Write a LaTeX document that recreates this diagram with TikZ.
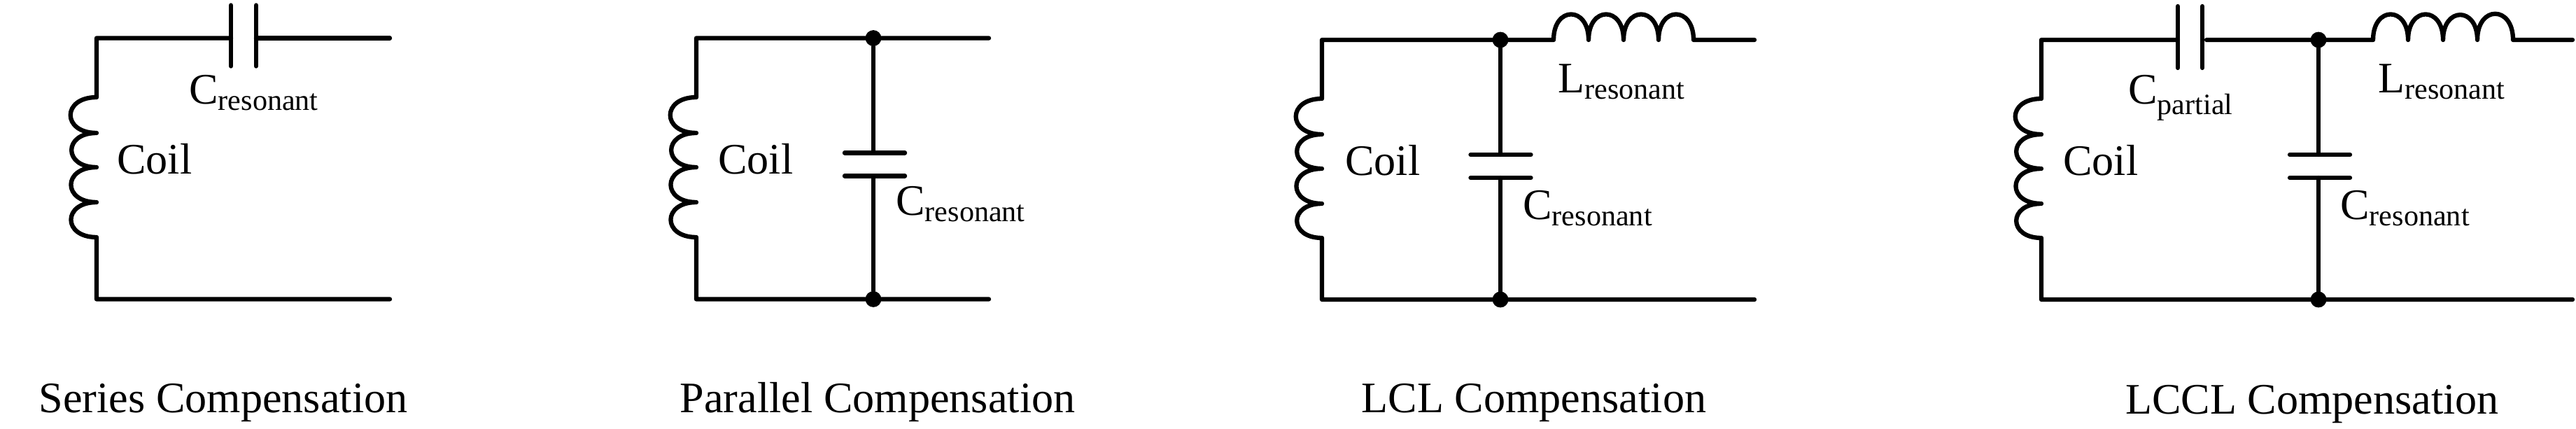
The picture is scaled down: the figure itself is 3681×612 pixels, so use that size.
\documentclass[tikz,border=0pt]{standalone}
\usepackage{fontspec}
\setmainfont{Liberation Serif}
\newcommand{\subtxt}[1]{\textsubscript{\fontsize{24}{24}\selectfont #1}}
\tikzset{
  wire/.style={line width=3.6pt,line cap=round,line join=round},
  coilturn/.style={out=180,in=180,looseness=2.5},
  lturn/.style={out=90,in=90,looseness=2.5},
  dotnode/.style={circle,fill=black,inner sep=0pt,minimum size=13pt},
  lbl/.style={anchor=base west,inner sep=0pt,font=\fontsize{35.4}{40}\selectfont},
  caption/.style={anchor=base,inner sep=0pt,font=\fontsize{35.4}{40}\selectfont}
}
\begin{document}
\begin{tikzpicture}[x=0.02cm,y=0.02cm]
    \useasboundingbox (0,0) rectangle (3681,612);

    \coordinate (tl1) at (138,557.5);
    \coordinate (bl1) at (138,184.5);
    \coordinate (tr1) at (557,557.5);
    \coordinate (br1) at (557,184.5);
    \coordinate (ca1) at (138,473);
    \coordinate (cb1) at (138,422);
    \coordinate (cc1) at (138,373);
    \coordinate (cd1) at (138,323);
    \coordinate (ce1) at (138,273);
    \coordinate (pa1) at (330,557.5);
    \coordinate (pb1) at (366,557.5);
    \draw[wire] (pa1) -- (tl1) -- (ca1) to[coilturn] (cb1) to[coilturn] (cc1) to[coilturn] (cd1) to[coilturn] (ce1) -- (bl1) -- (br1);
    \draw[wire] (pb1) -- (tr1);
    \draw[wire] (pa1) ++(0,47) -- ++(0,-87);
    \draw[wire] (pb1) ++(0,47) -- ++(0,-87);
    \node[lbl] (cres1) at (270,463) {C\subtxt{resonant}};
    \node[lbl] (coil1) at (167,363) {Coil};
    \node[caption] (cap1) at (319,22.6) {Series Compensation};


    \coordinate (tl2) at (995,557.5);
    \coordinate (bl2) at (995,184.5);
    \coordinate (tr2) at (1413,557.5);
    \coordinate (br2) at (1413,184.5);
    \coordinate (ca2) at (995,473);
    \coordinate (cb2) at (995,422);
    \coordinate (cc2) at (995,373);
    \coordinate (cd2) at (995,323);
    \coordinate (ce2) at (995,273);
    \node[dotnode] (dt2) at (1248,557.5) {};
    \node[dotnode] (db2) at (1248,184.5) {};
    \coordinate (pa2) at (1250,393.6);
    \coordinate (pb2) at (1250,360.6);
    \draw[wire] (tr2) -- (dt2) -- (tl2) -- (ca2) to[coilturn] (cb2) to[coilturn] (cc2) to[coilturn] (cd2) to[coilturn] (ce2) -- (bl2) -- (db2) -- (br2);
    \draw[wire] (dt2) -- (dt2 |- pa2);
    \draw[wire] (dt2 |- pb2) -- (db2);
    \draw[wire] (pa2) ++(-43,0) -- ++(86,0);
    \draw[wire] (pb2) ++(-43,0) -- ++(86,0);
    \node[lbl] (cres2) at (1280,304) {C\subtxt{resonant}};
    \node[lbl] (coil2) at (1026,363) {Coil};
    \node[caption] (cap2) at (1254,22.6) {Parallel Compensation};


    \coordinate (tl3) at (1889,555);
    \coordinate (bl3) at (1889,184);
    \coordinate (tr3) at (2507,555);
    \coordinate (br3) at (2507,184);
    \coordinate (ca3) at (1889,471);
    \coordinate (cb3) at (1889,420);
    \coordinate (cc3) at (1889,371);
    \coordinate (cd3) at (1889,321);
    \coordinate (ce3) at (1889,272);
    \coordinate (la3) at (2220,555);
    \coordinate (lb3) at (2270,555);
    \coordinate (lc3) at (2320,555);
    \coordinate (ld3) at (2370,555);
    \coordinate (le3) at (2420,555);
    \node[dotnode] (dt3) at (2144,555) {};
    \node[dotnode] (db3) at (2144,184) {};
    \coordinate (pa3) at (2144.5,391);
    \coordinate (pb3) at (2144.5,358);
    \draw[wire] (dt3) -- (tl3) -- (ca3) to[coilturn] (cb3) to[coilturn] (cc3) to[coilturn] (cd3) to[coilturn] (ce3) -- (bl3) -- (db3) -- (br3);
    \draw[wire] (dt3) -- (la3) to[lturn] (lb3) to[lturn] (lc3) to[lturn] (ld3) to[lturn] (le3) -- (tr3);
    \draw[wire] (dt3) -- (dt3 |- pa3);
    \draw[wire] (dt3 |- pb3) -- (db3);
    \draw[wire] (pa3) ++(-43,0) -- ++(86,0);
    \draw[wire] (pb3) ++(-43,0) -- ++(86,0);
    \node[lbl] (lres3) at (2226,479) {L\subtxt{resonant}};
    \node[lbl] (cres3) at (2176,298) {C\subtxt{resonant}};
    \node[lbl] (coil3) at (1922,361) {Coil};
    \node[caption] (cap3) at (2192,22.6) {LCL Compensation};


    \coordinate (tl4) at (2917,555);
    \coordinate (bl4) at (2917,184);
    \coordinate (tr4) at (3676,555);
    \coordinate (br4) at (3676,184);
    \coordinate (ca4) at (2917,471);
    \coordinate (cb4) at (2917,420);
    \coordinate (cc4) at (2917,371);
    \coordinate (cd4) at (2917,321);
    \coordinate (ce4) at (2917,272);
    \coordinate (sa4) at (3112,555);
    \coordinate (sb4) at (3147,555);
    \coordinate (sw4) at (3153,555);
    \coordinate (la4) at (3391,555);
    \coordinate (lb4) at (3441,555);
    \coordinate (lc4) at (3491,555);
    \coordinate (ld4) at (3540,555);
    \coordinate (le4) at (3591,555);
    \node[dotnode] (dt4) at (3313,555) {};
    \node[dotnode] (db4) at (3313,184) {};
    \coordinate (pa4) at (3315,391);
    \coordinate (pb4) at (3315,358);
    \draw[wire] (sa4) -- (tl4) -- (ca4) to[coilturn] (cb4) to[coilturn] (cc4) to[coilturn] (cd4) to[coilturn] (ce4) -- (bl4) -- (db4) -- (br4);
    \draw[wire] (sw4) -- (dt4) -- (la4) to[lturn] (lb4) to[lturn] (lc4) to[lturn] (ld4) to[lturn] (le4) -- (tr4);
    \draw[wire] (sa4) ++(0,48) -- ++(0,-88);
    \draw[wire] (sb4) ++(0,48) -- ++(0,-88);
    \draw[wire] (dt4) -- (dt4 |- pa4);
    \draw[wire] (dt4 |- pb4) -- (db4);
    \draw[wire] (pa4) ++(-43,0) -- ++(86,0);
    \draw[wire] (pb4) ++(-43,0) -- ++(86,0);
    \node[lbl] (cpar4) at (3041,463) {C\subtxt{partial}};
    \node[lbl] (lres4) at (3398,479) {L\subtxt{resonant}};
    \node[lbl] (cres4) at (3344,298) {C\subtxt{resonant}};
    \node[lbl] (coil4) at (2948,361) {Coil};
    \node[caption] (cap4) at (3304,21) {LCCL Compensation};
  \end{tikzpicture}
\end{document}
